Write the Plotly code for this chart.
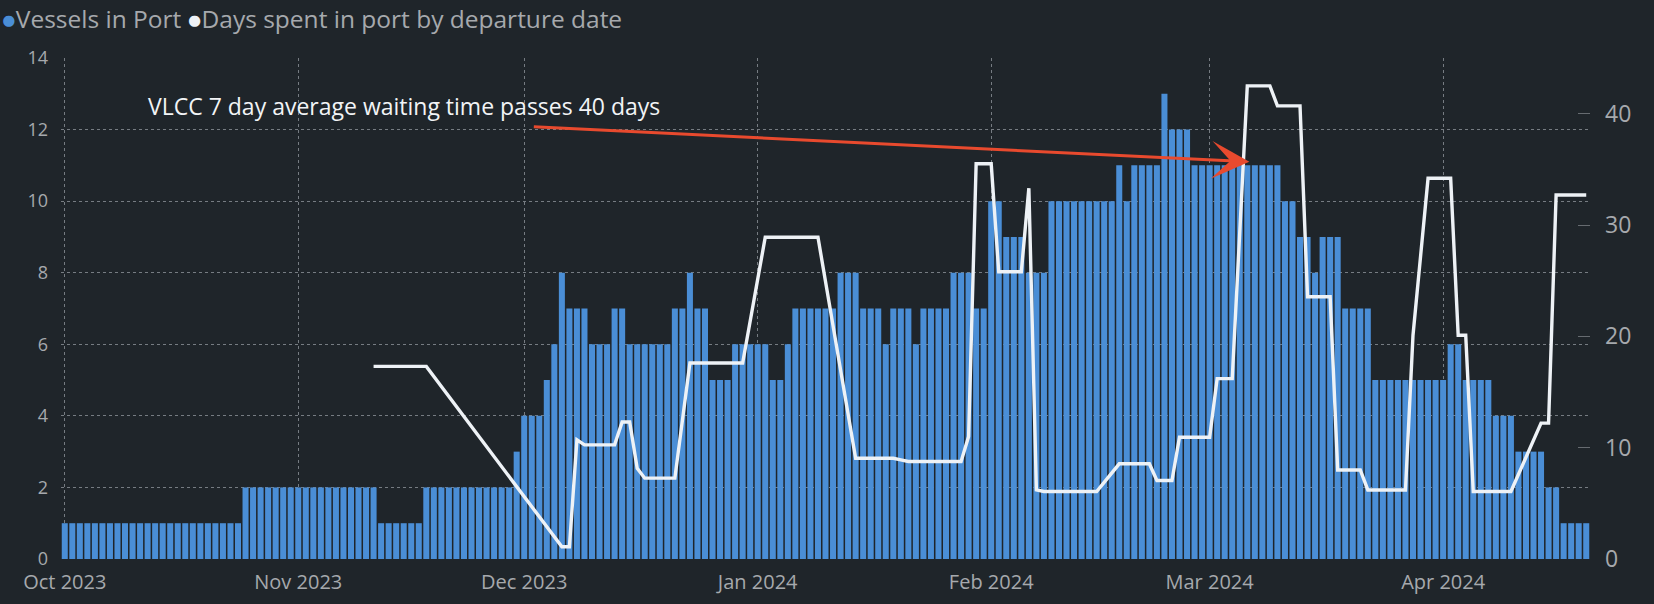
import pandas as pd
import plotly.graph_objects as go

N = None
# Daily values, 1 Oct 2023 .. 20 Apr 2024
vessels_in_port = [
    # Oct 2023
    1, 1, 1, 1, 1, 1, 1, 1, 1, 1, 1, 1, 1, 1, 1, 1, 1, 1, 1, 1, 1, 1, 1, 1, 2, 2, 2, 2, 2, 2, 2,
    # Nov 2023
    2, 2, 2, 2, 2, 2, 2, 2, 2, 2, 2, 1, 1, 1, 1, 1, 1, 2, 2, 2, 2, 2, 2, 2, 2, 2, 2, 2, 2, 3,
    # Dec 2023
    4, 4, 4, 5, 6, 8, 7, 7, 7, 6, 6, 6, 7, 7, 6, 6, 6, 6, 6, 6, 7, 7, 8, 7, 7, 5, 5, 5, 6, 6, 6,
    # Jan 2024
    6, 6, 5, 5, 6, 7, 7, 7, 7, 7, 7, 8, 8, 8, 7, 7, 7, 6, 7, 7, 7, 6, 7, 7, 7, 7, 8, 8, 8, 7, 7,
    # Feb 2024
    10, 10, 9, 9, 9, 8, 8, 8, 10, 10, 10, 10, 10, 10, 10, 10, 10, 11, 10, 11, 11, 11, 11, 13, 12, 12, 12, 11, 11,
    # Mar 2024
    11, 11, 11, 11, 11, 11, 11, 11, 11, 11, 10, 10, 9, 9, 8, 9, 9, 9, 7, 7, 7, 7, 5, 5, 5, 5, 5, 5, 5, 5, 5,
    # Apr 2024
    5, 6, 6, 5, 5, 5, 5, 4, 4, 4, 3, 3, 3, 3, 2, 2, 1, 1, 1, 1,
]

days_in_port = [
    # Oct 2023
    N, N, N, N, N, N, N, N, N, N, N, N, N, N, N, N, N, N, N, N, N, N, N, N, N, N, N, N, N, N, N,
    # Nov 2023
    N, N, N, N, N, N, N, N, N, N, 17.3, 17.3, 17.3, 17.3, 17.3, 17.3, 17.3, 17.3, N, N, N, N, N, N, N, N, N, N, N, N,
    # Dec 2023
    N, N, N, N, N, 1.1, 1.1, 10.7, 10.25, 10.25, 10.25, 10.25, 10.25, 12.3, 12.3, 8.15, 7.26, 7.26, 7.26, 7.26, 7.26,
    N, 17.6, 17.6, 17.6, 17.6, 17.6, 17.6, 17.6, 17.6, N,
    # Jan 2024
    N, 28.9, 28.9, 28.9, 28.9, 28.9, 28.9, 28.9, 28.9, N, N, N, N, 9.05, 9.05, 9.05, 9.05, 9.05, 9.05, 8.9,
    8.76, 8.76, 8.76, 8.76, 8.76, 8.76, 8.76, 8.76, 11.0, 35.5, 35.5,
    # Feb 2024
    35.5, 25.8, 25.8, 25.8, 25.8, 33.3, 6.2, 6.06, 6.06, 6.06, 6.06, 6.06, 6.06, 6.06, 6.06, N, N,
    8.55, 8.55, 8.55, 8.55, 8.55, 7.05, 7.05, 7.05, 10.94, 10.94, 10.94, 10.94,
    # Mar 2024
    10.94, 16.2, 16.2, 16.2, N, 42.5, 42.5, 42.5, 42.5, 40.7, 40.7, 40.7, 40.7, 23.55, 23.55, 23.55, 23.55,
    8.0, 8.0, 8.0, 8.0, 6.2, 6.2, 6.2, 6.2, 6.2, 6.2, 20.1, N, 34.2, 34.2,
    # Apr 2024
    34.2, 34.2, 20.1, 20.1, 6.06, 6.06, 6.06, 6.06, 6.06, 6.06, N, N, N, 12.2, 12.2, 32.7, 32.7, 32.7, 32.7, 32.7,
]

start_date = "2023-10-01"
dates = pd.date_range(start_date, periods=len(vessels_in_port), freq="D")

series_names = ["Vessels in Port", "Days spent in port by departure date"]
annotation_text = "VLCC 7 day average waiting time passes 40 days"

BG = "#1f252a"
BAR = "#4a8ed6"
LINE = "#eef2f6"
GRID = "rgba(190,196,202,0.55)"
TICK = "#a6a9ad"
FONT = "'Open Sans', Lato, sans-serif"

fig = go.Figure()
fig.add_trace(go.Bar(
    x=dates, y=vessels_in_port, name=series_names[0],
    marker=dict(color=BAR, line=dict(width=0)), showlegend=False,
))
fig.add_trace(go.Scatter(
    x=dates, y=days_in_port, name=series_names[1], yaxis="y2",
    mode="lines", connectgaps=True,
    line=dict(color=LINE, width=3.4), showlegend=False,
))

fig.update_layout(
    width=1654, height=604,
    margin=dict(l=61, r=64, t=58, b=45),
    paper_bgcolor=BG, plot_bgcolor=BG,
    bargap=0.2,
    font=dict(family=FONT, color=TICK),
    xaxis=dict(
        type="date", automargin=False,
        range=["2023-09-30 12:00", "2024-04-20 12:00"],
        tick0="2023-10-01", dtick="M1", tickformat="%b %Y",
        showgrid=True, gridcolor=GRID, griddash="dot", gridwidth=1,
        zeroline=False, showline=False, ticks="",
        ticklabelstandoff=9,
        tickfont=dict(size=20, color=TICK),
    ),
    yaxis=dict(
        range=[0, 14], dtick=2, automargin=False,
        showgrid=True, gridcolor=GRID, griddash="dot", gridwidth=1,
        zeroline=False, showline=False, ticks="",
        ticklabelstandoff=12,
        tickfont=dict(size=18, color=TICK),
    ),
    yaxis2=dict(
        overlaying="y", side="right", automargin=False,
        range=[0, 45], tickvals=[0, 10, 20, 30, 40],
        showgrid=False, zeroline=False, showline=False,
        ticks="inside", ticklen=12, tickcolor="rgba(150,155,160,0.6)", tickwidth=1,
        ticklabelstandoff=14,
        tickfont=dict(size=23, color=TICK),
    ),
)

# Legend (drawn as text with coloured dots, as in the original)
fig.add_annotation(
    xref="paper", yref="paper", x=-61 / 1529, y=1 + (58.3 - 19) / 501,
    xanchor="left", yanchor="middle", showarrow=False,
    text=(f"<span style='color:{BAR};font-size:23px'>●</span>{series_names[0]} "
          f"<span style='color:{LINE};font-size:23px'>●</span>{series_names[1]}"),
    font=dict(size=24.5, color=TICK, family=FONT),
)

# Callout text
fig.add_annotation(
    xref="x", yref="y", x="2023-10-11 20:00", y=12.66,
    xanchor="left", yanchor="middle", showarrow=False,
    text=annotation_text, font=dict(size=23, color="#f2f4f6", family=FONT),
)
# Callout arrow
fig.add_annotation(
    xref="x", yref="y", x="2024-03-06 06:30", y=11.10,
    axref="pixel", ayref="pixel", ax=-717, ay=-35,
    text="", showarrow=True, arrowhead=3, arrowsize=2.1, arrowwidth=3,
    arrowcolor="#e84a2e", standoff=0, startstandoff=0,
)

fig.write_html("out.html")
